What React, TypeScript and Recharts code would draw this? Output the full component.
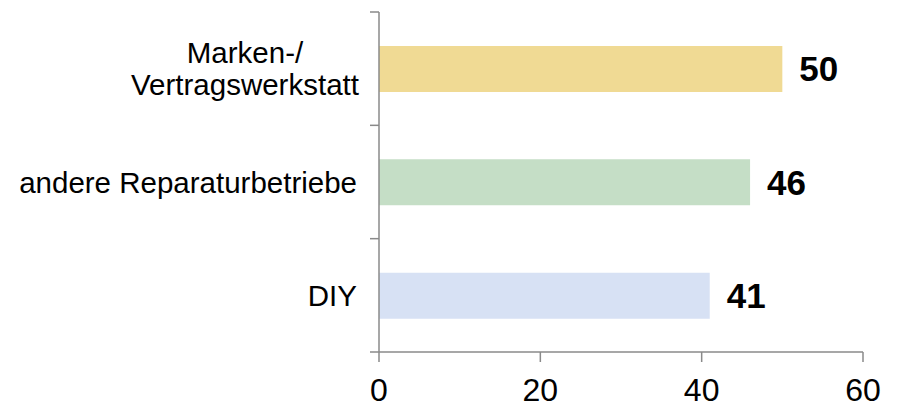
import { BarChart, Bar, XAxis, YAxis, Cell, LabelList } from "recharts"

// Repair channels (top to bottom) and their share values
const channels = ["Marken-/\nVertragswerkstatt", "andere Reparaturbetriebe", "DIY"]
const shares = [50, 46, 41]
const xTicks = [0, 20, 40, 60]

const COLORS = ["#F0DA94", "#C5DEC6", "#D7E1F4"]
const FONT = "'Liberation Sans', Arial, sans-serif"
const AXIS_GREY = "#8A8A8A"

const WIDTH = 900
const HEIGHT = 408
const TOP = 12
const X_AXIS_H = 56
const Y_AXIS_W = 379
const LABEL_GAP = 22
const TICK_LEN = 9
// height of one category band
const STEP = (HEIGHT - TOP - X_AXIS_H) / channels.length

const data = channels.map((name, i) => ({ name, value: shares[i] }))

// category label (split on line breaks, multi-line labels centred) plus
// the tick marks on the band boundaries, like an Excel category axis
function CategoryTick(props: any) {
  const { x, y, payload, index } = props
  const axisX = x + LABEL_GAP
  const lines: string[] = String(payload.value).split("\n")
  const lineHeight = 32
  const startY = y - ((lines.length - 1) * lineHeight) / 2
  const multi = lines.length > 1
  const cx = multi ? x - 112 : x
  return (
    <g>
      {index === 0 && (
        <line x1={axisX - TICK_LEN} x2={axisX} y1={y - STEP / 2} y2={y - STEP / 2} stroke={AXIS_GREY} strokeWidth={1.5} />
      )}
      <line x1={axisX - TICK_LEN} x2={axisX} y1={y + STEP / 2} y2={y + STEP / 2} stroke={AXIS_GREY} strokeWidth={1.5} />
      <text x={cx} y={startY} textAnchor={multi ? "middle" : "end"} fontSize={29.5} fontFamily={FONT} fill="#000">
        {lines.map((line, i) => (
          <tspan key={i} x={cx} y={startY + i * lineHeight} dy="0.36em">
            {line}
          </tspan>
        ))}
      </text>
    </g>
  )
}

export default function App() {
  return (
    <div style={{ position: "fixed", left: 0, top: 0, background: "#fff" }}>
      <BarChart
        width={WIDTH}
        height={HEIGHT}
        data={data}
        layout="vertical"
        margin={{ top: TOP, right: 37, bottom: 0, left: 0 }}
      >
        <XAxis
          type="number"
          dataKey="value"
          domain={[0, 60]}
          ticks={xTicks}
          interval={0}
          height={X_AXIS_H}
          tickSize={10}
          tickMargin={16}
          stroke={AXIS_GREY}
          axisLine={{ stroke: AXIS_GREY, strokeWidth: 1.5 }}
          tickLine={{ stroke: AXIS_GREY, strokeWidth: 1.5 }}
          tick={{ fontSize: 32, fontFamily: FONT, fill: "#000" }}
        />
        <YAxis
          type="category"
          dataKey="name"
          width={Y_AXIS_W}
          axisLine={{ stroke: AXIS_GREY, strokeWidth: 1.5 }}
          tickLine={false}
          tickSize={0}
          tickMargin={LABEL_GAP}
          interval={0}
          tick={<CategoryTick />}
        />
        <Bar dataKey="value" barSize={46} isAnimationActive={false}>
          {data.map((entry, index) => (
            <Cell key={`cell-${index}`} fill={COLORS[index % COLORS.length]} />
          ))}
          <LabelList
            dataKey="value"
            position="right"
            offset={17}
            fontSize={35}
            fontWeight="bold"
            fontFamily={FONT}
            fill="#000"
          />
        </Bar>
      </BarChart>
    </div>
  )
}
